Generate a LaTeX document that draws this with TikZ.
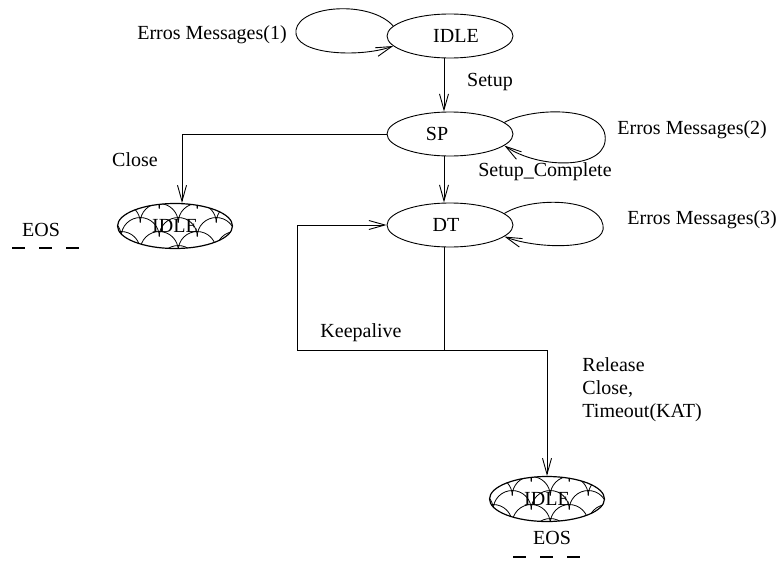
\documentclass[tikz,border=0pt]{standalone}
\usepackage{fontspec}
\setmainfont{Liberation Serif}
\usetikzlibrary{shapes.geometric,arrows.meta}
\begin{document}
\begin{tikzpicture}[x=1pt,y=-1pt,
  font=\fontsize{20}{23}\selectfont,
  line width=0.9pt,
  arr/.style={-{Straight Barb[length=16pt,width=9pt]}},
  state/.style={ellipse,draw,minimum width=126pt,minimum height=44pt,inner sep=0pt},
  % final states filled with a fish-scale pattern
  endstate/.style={ellipse,draw,line width=1.2pt,minimum width=115pt,minimum height=45pt,inner sep=0pt,
    path picture={\begin{scope}[shift={(path picture bounding box.center)},line width=0.8pt]
      \foreach \r in {0,...,7} \foreach \c in {1,...,6} {
        \pgfmathsetmacro\px{(\c-4)*38+(isodd(\r)?19:0)+7}
        \pgfmathsetmacro\py{(\r-3)*14+4}
        \draw (\px-19,\py) .. controls (\px-19,\py-10.5) and (\px-10.5,\py-19) .. (\px,\py-19)
              .. controls (\px+10.5,\py-19) and (\px+19,\py-10.5) .. (\px+19,\py);
      }\end{scope}}},
  lbl/.style={inner sep=0pt},
  eos/.style={line width=2.6pt,dash pattern=on 13pt off 14pt}
]
\useasboundingbox (0,0) rectangle (776,562);
\clip (0,0) rectangle (776,562);

% vertical spine of the main transitions
\coordinate (spine) at (444,0);

% states
\node[state,label={[lbl,name=idletxt,xshift=6pt]center:IDLE}] (idle) at (450,36) {};
\node[state,label={[lbl,name=sptxt,xshift=-13pt]center:SP}] (sp) at (450,134) {};
\node[state,label={[lbl,name=dttxt,xshift=-4pt]center:DT}] (dt) at (450,225) {};
\node[endstate] (idleL) at (175,226) {IDLE};
\node[endstate] (idleB) at (547,499) {IDLE};

% transition labels
\node[lbl] (err1) at (212,35) {Erros Messages(1)};
\node[lbl] (setup) at (490,82) {Setup};
\node[lbl,anchor=west] (err2) at (617,130) {Erros Messages(2)};
\node[lbl] (close) at (135,160) {Close};
\node[lbl] (setupc) at (545,172) {Setup\_Complete};
\node[lbl,anchor=west] (err3) at (627,220) {Erros Messages(3)};
\node[lbl] (eosL) at (41,230) {EOS};
\node[lbl] (keep) at (361,333) {Keepalive};
\node[lbl,anchor=west,align=left] (rel) at (582,390) {Release\\Close,\\Timeout(KAT)};
\node[lbl] (eosB) at (552,538) {EOS};

% EOS markers
\draw[eos] (12,248) -- (80,248);
\draw[eos] (513,557) -- (580,557);

% main transitions
\draw[arr] (idle.south -| spine) -- (sp.north -| spine);
\draw[arr] (sp.south -| spine) -- (dt.north -| spine);
\draw[arr] (sp.west) -| ([xshift=7pt]idleL.north);

\coordinate (jn) at (444,350);
\coordinate (kl) at (297,350);
\draw (dt.south -| spine) -- (jn);
\draw[arr] (jn) -| (idleB.north);
\draw[arr] (jn) -- (kl) |- (dt.west);

% self loops for error messages
\draw[arr] (idle.170) .. controls (370,0) and (300,5) .. (296,30)
           .. controls (292,55) and (360,58) .. (idle.190);
\draw[arr] (sp.12) .. controls (530,108) and (600,105) .. (605,135)
           .. controls (610,170) and (540,170) .. (sp.348);
\draw[arr] (dt.12) .. controls (530,197) and (598,197) .. (603,225)
           .. controls (608,250) and (540,250) .. (dt.348);
\end{tikzpicture}
\end{document}
